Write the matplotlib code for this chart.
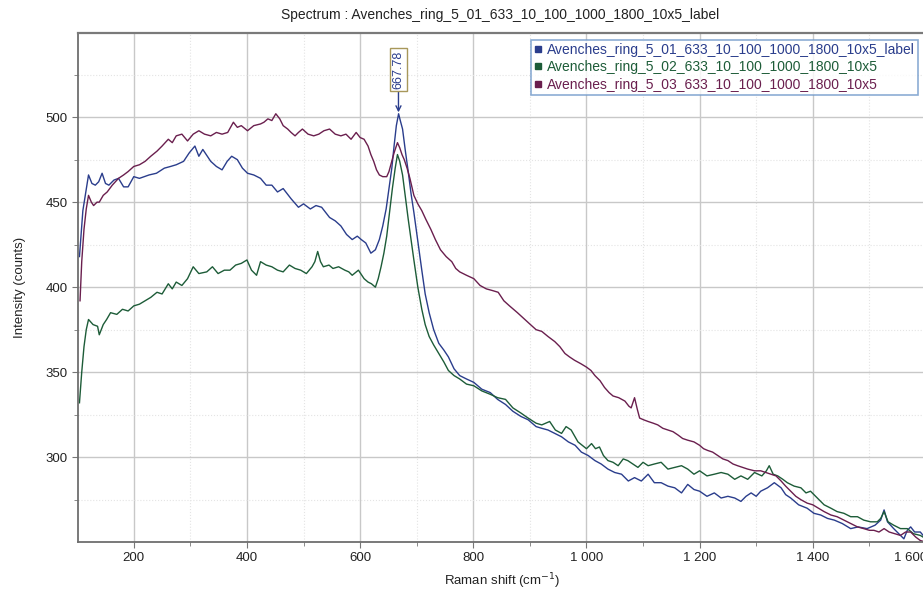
import matplotlib
matplotlib.use('Agg')
import matplotlib.pyplot as plt
from matplotlib.ticker import MultipleLocator, FuncFormatter

plt.rcParams['font.family'] = ['Liberation Sans', 'DejaVu Sans']

title = 'Spectrum : Avenches_ring_5_01_633_10_100_1000_1800_10x5_label'
names = ['Avenches_ring_5_01_633_10_100_1000_1800_10x5_label',
         'Avenches_ring_5_02_633_10_100_1000_1800_10x5',
         'Avenches_ring_5_03_633_10_100_1000_1800_10x5']
colors = ['#2a3d8c', '#1d5c38', '#6a1f4e']

# spectrum 01 (blue)
x1 = [104, 110, 120, 126, 132, 138, 144, 150, 156, 165, 173, 182, 190, 200, 210, 227, 240, 254, 265, 275,
      288, 298, 308, 315, 322, 336, 346, 356, 365, 373, 383, 392, 401, 412, 424, 434, 444, 454, 464, 478,
      491, 500, 512, 522, 532, 546, 556, 566, 576, 586, 595, 602, 610, 619, 627, 634, 640, 646, 651, 656,
      660, 664, 668, 671, 675, 680, 685, 690, 695, 702, 709, 715, 722, 730, 739, 748, 756, 766, 776, 788,
      801, 815, 830, 843, 857, 870, 884, 897, 911, 921, 932, 944, 956, 968, 980, 991, 1003, 1015, 1026, 1038,
      1050, 1062, 1074, 1085, 1097, 1109, 1120, 1132, 1144, 1156, 1168, 1179, 1190, 1200, 1213, 1226, 1238, 1250, 1262, 1273,
      1282, 1291, 1300, 1308, 1320, 1332, 1344, 1352, 1361, 1375, 1390, 1402, 1414, 1426, 1438, 1452, 1467, 1480, 1496, 1510,
      1520, 1526, 1532, 1543, 1552, 1561, 1567, 1573, 1580, 1590, 1600]
y1 = [418, 445, 466, 461, 460, 462, 467, 461, 460, 463, 464, 459, 459, 465, 464, 466, 467, 470, 471, 472,
      474, 479, 483, 477, 481, 474, 471, 469, 474, 477, 475, 470, 467, 466, 464, 460, 460, 456, 458, 452,
      447, 449, 446, 448, 447, 441, 439, 436, 431, 428, 430, 428, 426, 420, 422, 428, 436, 446, 458, 470,
      483, 495, 502, 498, 493, 480, 468, 455, 444, 427, 410, 396, 385, 375, 367, 363, 359, 352, 348, 346,
      344, 340, 338, 334, 331, 327, 324, 322, 318, 317, 316, 314, 312, 309, 307, 303, 301, 298, 296, 293,
      291, 290, 286, 288, 286, 290, 285, 285, 283, 282, 279, 284, 281, 280, 277, 279, 276, 277, 276, 274,
      277, 279, 277, 280, 282, 285, 282, 278, 276, 272, 270, 267, 266, 264, 263, 261, 258, 259, 258, 260,
      263, 269, 262, 258, 255, 252, 257, 259, 256, 256, 252]

# spectrum 02 (green)
x2 = [104, 108, 112, 116, 120, 128, 136, 139, 146, 152, 159, 170, 180, 190, 200, 210, 220, 230, 241, 250,
      261, 268, 275, 285, 295, 305, 315, 329, 339, 349, 360, 370, 380, 390, 400, 408, 417, 424, 434, 444,
      454, 464, 475, 485, 495, 505, 515, 520, 525, 530, 535, 545, 552, 562, 573, 580, 586, 597, 607, 614,
      620, 627, 632, 637, 642, 647, 652, 657, 662, 666, 670, 675, 680, 685, 690, 695, 702, 709, 715, 722,
      730, 739, 748, 756, 766, 776, 788, 801, 815, 830, 843, 857, 870, 884, 897, 911, 921, 935, 945, 956,
      964, 973, 985, 1000, 1009, 1016, 1023, 1030, 1038, 1047, 1056, 1065, 1073, 1082, 1091, 1100, 1109, 1120, 1132, 1144,
      1156, 1168, 1179, 1190, 1200, 1213, 1226, 1238, 1250, 1262, 1273, 1285, 1297, 1310, 1318, 1323, 1330, 1338, 1347, 1355,
      1367, 1379, 1388, 1396, 1408, 1420, 1432, 1443, 1455, 1467, 1479, 1490, 1502, 1514, 1520, 1526, 1533, 1543, 1555, 1567,
      1578, 1590, 1600]
y2 = [332, 350, 365, 375, 381, 378, 377, 372, 378, 381, 385, 384, 387, 386, 389, 390, 392, 394, 397, 396,
      402, 399, 403, 401, 405, 412, 408, 409, 412, 408, 410, 410, 413, 414, 416, 410, 407, 415, 413, 412,
      410, 409, 413, 411, 410, 408, 412, 415, 421, 415, 412, 413, 411, 412, 410, 409, 407, 410, 405, 403,
      402, 400, 405, 412, 420, 430, 444, 458, 470, 478, 474, 466, 453, 440, 428, 416, 400, 387, 378, 371,
      366, 361, 356, 351, 348, 346, 343, 342, 339, 337, 335, 334, 329, 326, 323, 320, 319, 321, 316, 314,
      318, 316, 309, 305, 308, 305, 306, 301, 298, 297, 295, 299, 298, 296, 294, 297, 295, 296, 297, 293,
      294, 295, 293, 290, 292, 289, 290, 291, 290, 287, 289, 287, 291, 289, 292, 295, 290, 289, 287, 285,
      283, 282, 279, 280, 276, 272, 270, 268, 267, 265, 265, 263, 262, 262, 264, 268, 262, 260, 258, 258,
      255, 254, 252]

# spectrum 03 (purple)
x3 = [105, 108, 112, 116, 120, 125, 129, 135, 139, 146, 153, 162, 173, 182, 190, 200, 210, 220, 230, 241,
      250, 261, 268, 275, 285, 295, 305, 315, 325, 336, 346, 356, 366, 376, 383, 390, 401, 412, 424, 430,
      437, 444, 451, 458, 464, 472, 478, 485, 491, 498, 508, 518, 527, 536, 546, 556, 566, 575, 584, 593,
      600, 607, 614, 619, 624, 629, 634, 640, 647, 651, 655, 660, 666, 670, 674, 678, 683, 688, 695, 702,
      709, 716, 725, 733, 742, 752, 762, 769, 776, 788, 801, 812, 823, 834, 844, 854, 864, 878, 891, 901,
      911, 921, 932, 944, 953, 962, 970, 979, 990, 1000, 1008, 1015, 1024, 1032, 1040, 1047, 1057, 1068, 1075, 1079,
      1085, 1090, 1094, 1101, 1109, 1118, 1126, 1135, 1144, 1153, 1162, 1170, 1179, 1190, 1200, 1207, 1214, 1223, 1232, 1241,
      1250, 1259, 1267, 1276, 1285, 1297, 1308, 1317, 1326, 1335, 1344, 1352, 1361, 1370, 1379, 1390, 1400, 1410, 1420, 1432,
      1443, 1455, 1467, 1479, 1490, 1500, 1508, 1517, 1526, 1535, 1545, 1555, 1564, 1573, 1582, 1590, 1600]
y3 = [392, 415, 434, 446, 454, 450, 448, 450, 450, 454, 456, 460, 464, 466, 468, 471, 472, 474, 477, 480,
      483, 487, 485, 489, 490, 486, 490, 492, 490, 489, 491, 490, 491, 497, 494, 495, 492, 495, 496, 497,
      499, 498, 502, 499, 495, 493, 491, 489, 491, 493, 490, 489, 490, 492, 493, 490, 489, 490, 487, 491,
      488, 487, 483, 478, 474, 469, 466, 465, 465, 468, 473, 479, 485, 482, 478, 475, 470, 464, 454, 449,
      445, 440, 434, 428, 422, 418, 415, 411, 409, 407, 405, 401, 399, 398, 397, 392, 389, 385, 381, 378,
      375, 374, 371, 368, 365, 361, 359, 357, 355, 353, 351, 348, 345, 341, 338, 336, 335, 333, 330, 329,
      335, 328, 323, 322, 321, 320, 319, 317, 316, 315, 313, 311, 310, 309, 307, 305, 304, 303, 301, 299,
      298, 296, 295, 294, 293, 292, 292, 291, 290, 289, 286, 283, 280, 277, 275, 273, 272, 270, 268, 266,
      265, 263, 261, 259, 258, 257, 257, 256, 258, 256, 255, 254, 256, 256, 253, 251, 250]

peak_x = 667.78
peak_y = 502

fig = plt.figure(figsize=(9.23, 5.89), dpi=100)
ax = fig.add_axes([0.0845, 0.0803, 0.9187, 0.8637])

for xs, ys, c, n in zip([x1, x2, x3], [y1, y2, y3], colors, names):
    ax.plot(xs, ys, color=c, lw=1.0, label=n)

ax.set_xlim(101.4, 1600)
ax.set_ylim(250.3, 549.5)
ax.xaxis.set_major_locator(MultipleLocator(200))
ax.xaxis.set_minor_locator(MultipleLocator(100))
ax.yaxis.set_major_locator(MultipleLocator(50))
ax.yaxis.set_minor_locator(MultipleLocator(25))


def thousands(v, p):
    # the last label sits at the clipped right edge, drawn separately below
    if v >= 1600:
        return ''
    return f'{int(v):,}'.replace(',', ' ')


ax.xaxis.set_major_formatter(FuncFormatter(thousands))
ax.grid(which='major', color='#c8c8c8', lw=1.0)
ax.grid(which='minor', color='#e4e4e4', lw=0.8, ls=':')
ax.set_axisbelow(True)
ax.tick_params(which='both', direction='out', color='#777777', labelsize=9.5, labelcolor='#222222')
ax.tick_params(which='major', length=4)
ax.tick_params(which='minor', length=3)
ax.tick_params(top=False, right=False)
for s in ['left', 'bottom']:
    ax.spines[s].set_color('#6e6e6e')
    ax.spines[s].set_linewidth(1.3)
ax.spines['top'].set_color('#7a7a7a')
ax.spines['top'].set_linewidth(1.6)
ax.spines['right'].set_visible(False)

ax.annotate('1 600', xy=(1600, 0), xycoords=ax.get_xaxis_transform(),
            xytext=(-11, -7.5), textcoords='offset points', ha='center', va='top',
            fontsize=9.5, color='#222222', annotation_clip=False)

ax.set_xlabel('Raman shift (cm$^{-1}$)', fontsize=9.5, labelpad=5, color='#222222')
ax.set_ylabel('Intensity (counts)', fontsize=9.5, labelpad=14, color='#222222')
fig.text(0.5415, 0.975, title, ha='center', va='center', fontsize=10, color='#222222')

ax.annotate(f'{peak_x:.2f}', xy=(peak_x, peak_y), xytext=(peak_x, 528),
            rotation=90, ha='center', va='center', fontsize=9, color='#2a3d8c',
            bbox=dict(boxstyle='square,pad=0.2', fc='white', ec='#a8985a', lw=1),
            arrowprops=dict(arrowstyle='->', color='#2a3d8c', lw=1, shrinkA=0, shrinkB=1))

leg = ax.legend(loc='upper right', bbox_to_anchor=(918 / 923, 1 - 40 / 589),
                bbox_transform=fig.transFigure, fontsize=10, frameon=True, fancybox=False,
                handlelength=0.6, handletextpad=0.4, borderpad=0.2, labelspacing=0.25,
                borderaxespad=0)
leg.get_frame().set_edgecolor('#6f98c9')
leg.get_frame().set_linewidth(1.2)
for h, t, c in zip(leg.legend_handles, leg.get_texts(), colors):
    t.set_color(c)
    h.set_linestyle('none')
    h.set_marker('s')
    h.set_markersize(5)
    h.set_color(c)

fig.savefig('out.png', dpi=100)
